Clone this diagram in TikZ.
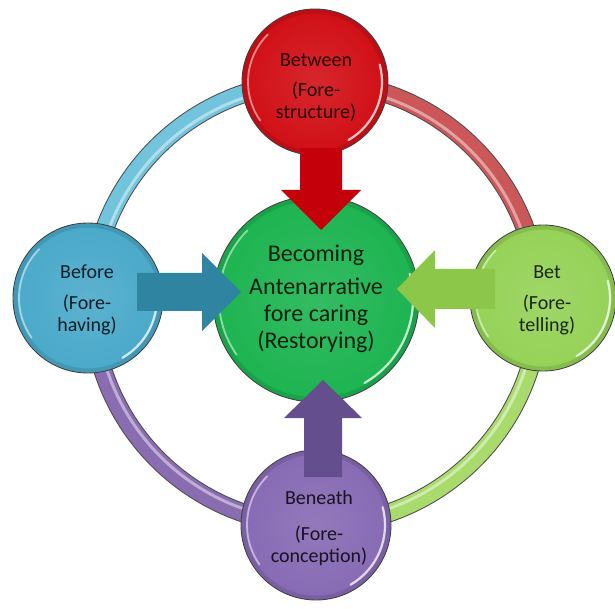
\documentclass[tikz,border=0pt]{standalone}
\usepackage{fontspec}
\setmainfont{Carlito}
\usetikzlibrary{calc,backgrounds}
\definecolor{redball}{HTML}{D10F16}
\definecolor{redarrow}{HTML}{C4000A}
\definecolor{redring}{HTML}{CB5759}
\definecolor{greenball}{HTML}{1DB451}
\definecolor{blueball}{HTML}{4AA9CA}
\definecolor{bluearrow}{HTML}{2F84A2}
\definecolor{bluering}{HTML}{72C3DC}
\definecolor{limeball}{HTML}{95D257}
\definecolor{limearrow}{HTML}{8CC74A}
\definecolor{limering}{HTML}{A8DB6C}
\definecolor{violetball}{HTML}{876AB4}
\definecolor{violetarrow}{HTML}{654E8E}
\definecolor{violetring}{HTML}{8A6CB0}
\tikzset{
  ball/.style 2 args={circle, draw=black!75, line width=0.9pt, inner sep=0pt,
    minimum size=#1, inner color=#2!90!white, outer color=#2},
  rim/.style={line width=4pt, draw=#1!75!black, opacity=0.4},
  gloss/.style={white, line width=2.2pt, opacity=0.75, line cap=round},
  softgloss/.style={white, line width=1.8pt, opacity=0.5, line cap=round},
  ringedge/.style={line width=19pt, draw=black!70},
  ringbody/.style={line width=17pt, draw=#1},
  ringshine/.style={line width=3pt, draw=white, opacity=0.45},
  balltext/.style={align=center, text=#1!18!black, font=\fontsize{20}{22}\selectfont},
  coretext/.style={align=center, text=#1!18!black, font=\fontsize{24}{27}\selectfont},
}
\begin{document}
\begin{tikzpicture}[x=1pt,y=1pt]
\useasboundingbox (0,0) rectangle (615,608);

% the five balls
\node[ball={206}{greenball}]  (C) at (316,309) {};
\node[ball={146}{redball}]    (T) at (315,526) {};
\node[ball={150}{blueball}]   (L) at (88,310)  {};
\node[ball={146}{limeball}]   (R) at (543,310) {};
\node[ball={150}{violetball}] (B) at (316,83)  {};

% darker rims and glossy highlights
\foreach \n/\r/\c in {C/103/greenball, T/73/redball, L/75/blueball, R/73/limeball, B/75/violetball} {
  \pgfmathsetmacro\rr{\r-2.5}
  \pgfmathsetmacro\rg{\r-6}
  \draw[rim=\c] (\n.center) circle[radius=\rr];
  \draw[gloss] (\n.center) ++(-60:\rg) arc[start angle=-60, end angle=15, radius=\rg];
  \draw[softgloss] (\n.center) ++(135:\rg) arc[start angle=135, end angle=215, radius=\rg];
}

% the ring joining the outer balls
\begin{scope}[on background layer]
  \foreach \n/\a/\b/\c/\s in {T/90/180/bluering/-1, T/90/0/redring/-1,
                              B/270/180/violetring/1, B/-90/0/limering/1} {
    \draw[ringedge] (\n.center) arc[start angle=\a, end angle=\b, radius=224];
    \draw[ringbody=\c] (\n.center) arc[start angle=\a, end angle=\b, radius=224];
    \draw[ringshine] ($(\n.center)+(0,4*\s)$) arc[start angle=\a, end angle=\b, radius=220];
  }
\end{scope}

% block arrows into the centre
\coordinate (rs) at (321,460); \coordinate (rt) at (321,378);
\fill[redarrow] ($(rs)+(-21,0)$) -- ($(rt)+(-21,40)$) -- ($(rt)+(-40,40)$) -- (rt)
  -- ($(rt)+(40,40)$) -- ($(rt)+(21,40)$) -- ($(rs)+(21,0)$) -- cycle;

\coordinate (bs) at (137,316); \coordinate (bt) at (241,316);
\fill[bluearrow] ($(bs)+(0,19)$) -- ($(bt)+(-39,19)$) -- ($(bt)+(-39,39)$) -- (bt)
  -- ($(bt)+(-39,-39)$) -- ($(bt)+(-39,-19)$) -- ($(bs)+(0,-19)$) -- cycle;

\coordinate (gs) at (495,319); \coordinate (gt) at (397,319);
\fill[limearrow] ($(gs)+(0,20)$) -- ($(gt)+(38,20)$) -- ($(gt)+(38,39)$) -- (gt)
  -- ($(gt)+(38,-39)$) -- ($(gt)+(38,-20)$) -- ($(gs)+(0,-20)$) -- cycle;

\coordinate (ps) at (323,131); \coordinate (pt) at (323,228);
\fill[violetarrow] ($(ps)+(-19,0)$) -- ($(pt)+(-19,-38)$) -- ($(pt)+(-39,-38)$) -- (pt)
  -- ($(pt)+(39,-38)$) -- ($(pt)+(19,-38)$) -- ($(ps)+(19,0)$) -- cycle;

% labels
\node[coretext=greenball] (Ctext) at (316,309) {Becoming\\[6pt]Antenarrative\\fore caring\\(Restorying)};
\node[balltext=redball]    (Ttext) at (316,521) {Between\\[8pt](Fore-\\structure)};
\node[balltext=blueball]   (Ltext) at (87,308)  {Before\\[9pt](Fore-\\having)};
\node[balltext=limeball]   (Rtext) at (547,308) {Bet\\[9pt](Fore-\\telling)};
\node[balltext=violetball] (Btext) at (319,80)  {Beneath\\[14pt](Fore-\\conception)};
\end{tikzpicture}
\end{document}
